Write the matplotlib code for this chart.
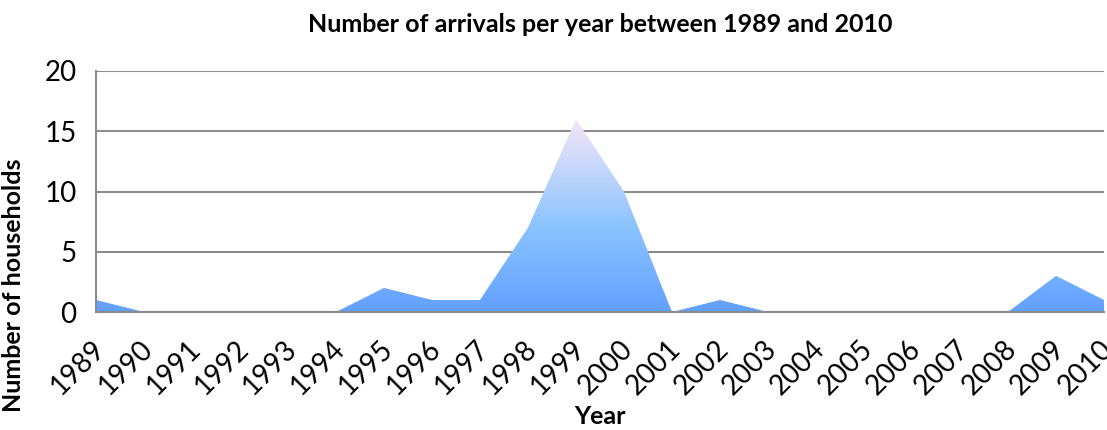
import matplotlib.pyplot as plt
import matplotlib.transforms as mtransforms
import numpy as np
from matplotlib.colors import LinearSegmentedColormap

years = [1989, 1990, 1991, 1992, 1993, 1994, 1995, 1996, 1997, 1998, 1999,
         2000, 2001, 2002, 2003, 2004, 2005, 2006, 2007, 2008, 2009, 2010]
arrivals = [1, 0, 0, 0, 0, 0, 2, 1, 1, 7, 16, 10, 0, 1, 0, 0, 0, 0, 0, 0, 3, 1]
y_ticks = [0, 5, 10, 15, 20]

plt.rcParams["font.family"] = ["Lato", "DejaVu Sans"]

fig = plt.figure(figsize=(11.07, 4.30), dpi=100)
ax = fig.add_axes([0.0867, 0.2744, 0.9106, 0.5605])

# Area with vertical gradient fill, clipped to the polygon
poly = ax.fill_between(years, arrivals, 0, color="none", linewidth=0)
cmap = LinearSegmentedColormap.from_list(
    "area", [(0.0, "#62a0ff"), (0.45, "#8cc4ff"), (1.0, "#f6e6f6")])
grad = np.linspace(0, 1, 256).reshape(-1, 1)
img = ax.imshow(grad, cmap=cmap, aspect="auto", origin="lower",
                extent=[years[0], years[-1], 0, max(arrivals)], zorder=2)
path = poly.get_paths()[0]
img.set_clip_path(path, transform=ax.transData)

ax.set_xlim(years[0], years[-1])
ax.set_ylim(0, 20)
ax.set_yticks(y_ticks)
ax.set_xticks(years)
ax.set_xticklabels([str(y) for y in years], rotation=45, ha="right",
                   rotation_mode="anchor", fontsize=20)
ax.tick_params(axis="y", labelsize=20, length=0, pad=14)
ax.tick_params(axis="x", length=0, pad=17)

# nudge rotated year labels a little to the left
shift = mtransforms.ScaledTranslation(-5 / 100, 0, fig.dpi_scale_trans)
for lbl in ax.get_xticklabels():
    lbl.set_transform(lbl.get_transform() + shift)

ax.grid(axis="y", color="#8c8c8c", linewidth=1.5, zorder=1)
ax.set_axisbelow(True)
for side in ["top", "right"]:
    ax.spines[side].set_visible(False)
for side in ["left", "bottom"]:
    ax.spines[side].set_color("#8c8c8c")
    ax.spines[side].set_linewidth(1.5)
    ax.spines[side].set_zorder(3)

ax.set_title("Number of arrivals per year between 1989 and 2010",
             fontsize=18, fontweight="bold", pad=28)
ax.set_ylabel("Number of households", fontsize=18, fontweight="bold")
ax.yaxis.set_label_coords(-0.0704, 0.112)
ax.set_xlabel("Year", fontsize=18, fontweight="bold", labelpad=4)

fig.savefig("out.png", dpi=100)
